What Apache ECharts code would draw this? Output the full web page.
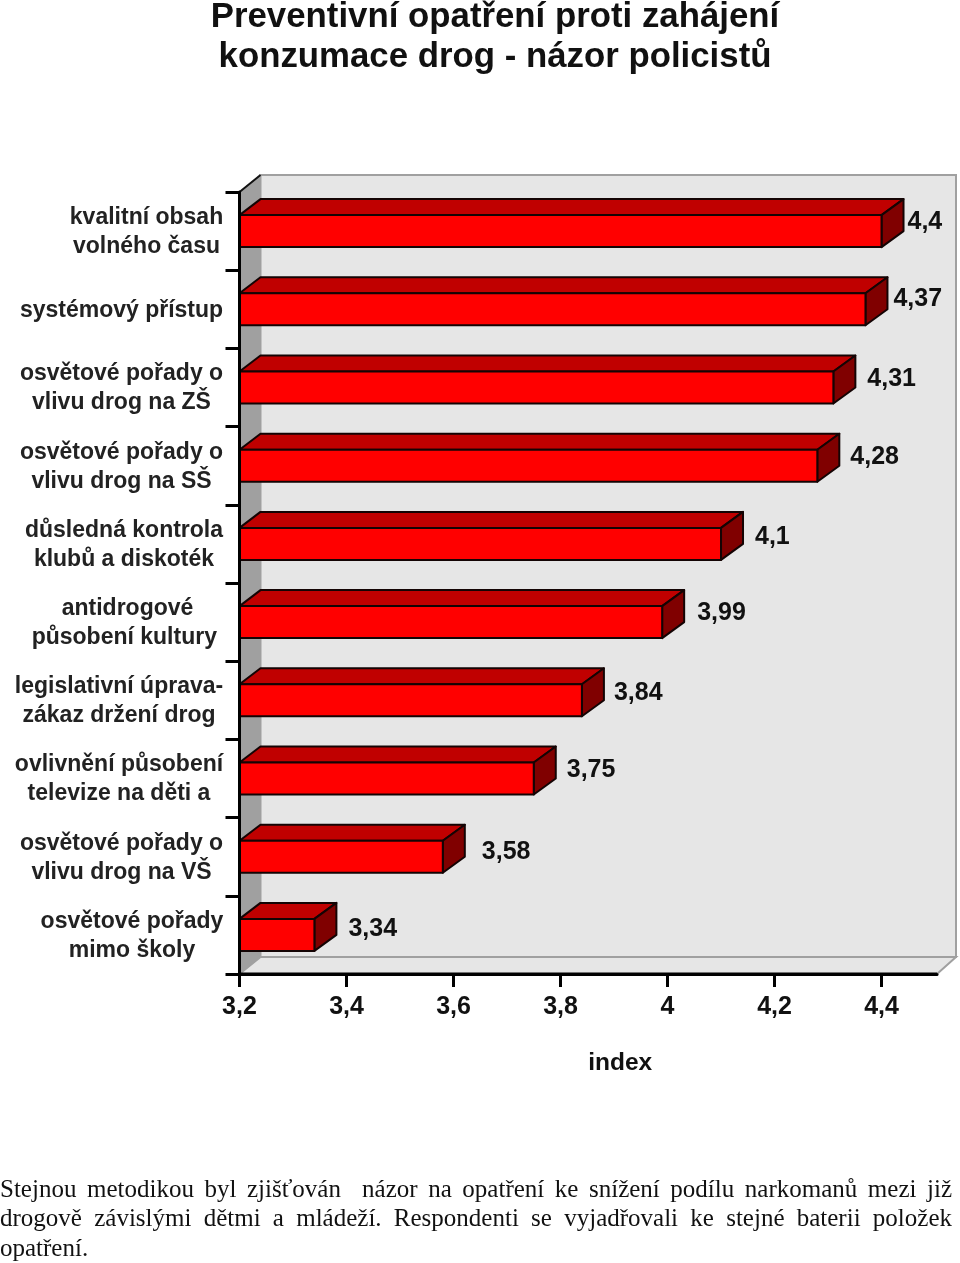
<!DOCTYPE html>
<html lang="cs"><head><meta charset="utf-8">
<style>
html,body{margin:0;padding:0;background:#fff}
#c{position:absolute;left:0;top:0;width:960px;height:1263px}
#p{position:absolute;left:0;top:1173.5px;width:952px;font:25px/29.5px "Liberation Serif",serif;color:#111}
#p div{white-space:nowrap;overflow:visible}
#p .j{text-align:justify;text-align-last:justify;white-space:normal}
</style>
<script src="https://cdn.jsdelivr.net/npm/echarts@6/dist/echarts.min.js"></script>
</head><body><div id="c"></div>
<div id="p"><div class="j">Stejnou metodikou byl zjišťován&nbsp; názor na opatření ke snížení podílu narkomanů mezi již</div><div class="j">drogově závislými dětmi a mládeží. Respondenti se vyjadřovali ke stejné baterii položek</div><div>opatření.</div></div>
<script>
const titleText = 'Preventivní opatření proti zahájení\nkonzumace drog - názor policistů';
const categories = [
  'kvalitní obsah\nvolného času','systémový přístup','osvětové pořady o\nvlivu drog na ZŠ',
  'osvětové pořady o\nvlivu drog na SŠ','důsledná kontrola\nklubů a diskoték','antidrogové\npůsobení kultury\u00a0',
  'legislativní úprava-\nzákaz držení drog','ovlivnění působení\ntelevize na děti a','osvětové pořady o\nvlivu drog na VŠ',
  'osvětové pořady\nmimo školy'];
const values = [4.4,4.37,4.31,4.28,4.1,3.99,3.84,3.75,3.58,3.34];
const valueTicks = [3.2,3.4,3.6,3.8,4,4.2,4.4];
const axisName = 'index';
const labelShiftX = [26,28,34,33,34,35,32,33,39,34];
const labelShiftY = [-9,-10,-8,-9,-7,-9,-7,-8,-5,-6];

const comma = v => String(v).replace('.',',');
const catFont = 'bold 23px "Liberation Sans"';
const ctx = document.createElement('canvas').getContext('2d'); ctx.font = catFont;
const rich = {};
const blockKey = {};
categories.forEach((c,i)=>{
  const w = Math.ceil(Math.max(...c.split('\n').map(l=>ctx.measureText(l).width)));
  blockKey[c]='b'+i;
  rich['b'+i]={width:w,align:'center',fontFamily:'Liberation Sans',fontSize:23,fontWeight:'bold',color:'#222',lineHeight:29};
});
const DX=21, DY=17, BAR=32;
const black='#140404';
const chart = echarts.init(document.getElementById('c'));
chart.setOption({
  animation:false,
  backgroundColor:'#fff',
  title:{text:titleText,left:490,top:-8,textAlign:'center',
    textStyle:{fontFamily:'Liberation Sans',fontWeight:'bold',fontSize:34.8,lineHeight:40,color:'#111'}},
  grid:{left:239.5,top:192,width:697.5,height:782,containLabel:false},
  xAxis:{type:'value',min:3.2,max:4.5037,z:10,splitLine:{show:false},
    axisLine:{show:true,lineStyle:{color:'#000',width:3}},
    axisTick:{show:true,length:13,customValues:valueTicks,lineStyle:{color:'#000',width:3}},
    axisLabel:{customValues:valueTicks,formatter:comma,margin:21,fontFamily:'Liberation Sans',fontWeight:'bold',fontSize:25,color:'#111',hideOverlap:false,showMinLabel:true,showMaxLabel:true},
    name:axisName,nameLocation:'middle',nameGap:77,
    nameTextStyle:{fontFamily:'Liberation Sans',fontWeight:'bold',fontSize:24.5,color:'#111',padding:[0,0,0,64]}},
  yAxis:{type:'category',inverse:true,data:categories,z:10,
    axisLine:{show:true,lineStyle:{color:'#000',width:3}},
    axisTick:{show:true,length:14,alignWithLabel:false,lineStyle:{color:'#000',width:3}},
    axisLabel:{interval:0,margin:16,align:'right',rich,padding:[2,0,0,0],
      formatter:v=>v.split('\n').map(l=>`{${blockKey[v]}|${l}}`).join('\n')}},
  series:[
    {type:'custom',z:1,silent:true,data:[[3.2,0]],encode:{x:0,y:1},clip:false,
     renderItem(params){
       const r=params.coordSys, L=r.x,T=r.y,R=r.x+r.width,B=r.y+r.height;
       const line={stroke:'#a0a0a0',lineWidth:2};
       return {type:'group',children:[
         {type:'rect',shape:{x:L+DX,y:T-DY,width:r.width-2,height:r.height},style:{fill:'#e6e6e6',...line}},
         {type:'polygon',shape:{points:[[L,T],[L+DX,T-DY],[L+DX,B-DY],[L,B]]},style:{fill:'#a0a0a0',stroke:'#a0a0a0',lineWidth:1}},
         {type:'polygon',shape:{points:[[L,B],[L+DX,B-DY],[R+19,B-DY],[R,B]]},style:{fill:'#e6e6e6',stroke:'#a0a0a0',lineWidth:2}},
         {type:'line',shape:{x1:L,y1:T,x2:L+DX,y2:T-DY},style:{stroke:'#111',lineWidth:2}},
         {type:'line',shape:{x1:L,y1:B,x2:R,y2:B},style:{stroke:'#000',lineWidth:3}}
       ]};
     }},
    {type:'custom',z:3,data:values.map((v,i)=>[v,i]),encode:{x:0,y:1},clip:false,
     renderItem(params,api){
       const i=params.dataIndex, val=api.value(0), p=api.coord([val,api.value(1)]);
       const x0=params.coordSys.x, x1=p[0], t=p[1]-BAR/2, b=p[1]+BAR/2;
       const s={stroke:black,lineWidth:2,lineJoin:'round'};
       return {type:'group',children:[
         {type:'polygon',shape:{points:[[x0,t],[x0+DX,t-DY+1],[x1+DX+1,t-DY+1],[x1,t]]},style:{fill:'#c00000',...s}},
         {type:'polygon',shape:{points:[[x1,t],[x1+DX+1,t-DY+1],[x1+DX+1,b-DY+1],[x1,b]]},style:{fill:'#800000',...s}},
         {type:'rect',shape:{x:x0,y:t,width:x1-x0,height:BAR},style:{fill:'#ff0000',...s}},
         {type:'text',style:{x:x1+labelShiftX[i],y:p[1]+labelShiftY[i],text:comma(val),align:'left',verticalAlign:'middle',
           fill:'#111',font:'bold 25px "Liberation Sans"'}}
       ]};
     }}
  ]
});
</script></body></html>
